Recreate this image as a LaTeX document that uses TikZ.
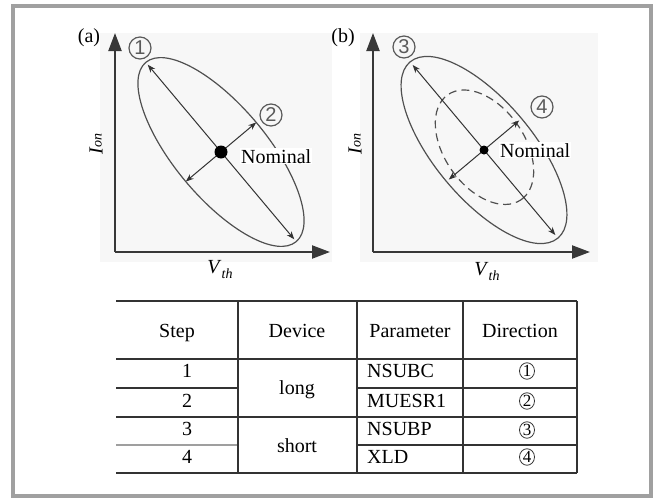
\documentclass[tikz,border=0pt]{standalone}
\usepackage{fontspec}
\setmainfont{Liberation Serif}
\newfontfamily\sansf{Liberation Sans}
\usetikzlibrary{arrows.meta,calc,shapes.geometric}
\definecolor{framec}{HTML}{A0A0A0}
\definecolor{axisc}{HTML}{383838}
\definecolor{ellc}{HTML}{505050}
\definecolor{linec}{HTML}{333333}
\definecolor{plotbg}{HTML}{F7F7F7}
\definecolor{lblc}{HTML}{5A5A5A}
\newcommand\myIon{\textit{I}\raisebox{1pt}{\fontsize{14}{14}\selectfont\textit{on}}}
\newcommand\myVth{\textit{V}\raisebox{-5pt}{\fontsize{14}{14}\selectfont\textit{th}}}
\begin{document}
\begin{tikzpicture}[x=1pt,y=-1pt,
  axisline/.style={draw=axisc,line width=2.2pt,-{Triangle[length=18pt,width=13pt]}},
  ell/.style={draw=ellc,line width=1.2pt},
  dashell/.style={draw=ellc,line width=1.2pt,dash pattern=on 8pt off 5pt},
  dbl/.style={draw=linec,line width=1pt,{Stealth[length=8pt,width=6pt]}-{Stealth[length=8pt,width=6pt]}},
  clabel/.style={circle,draw=lblc,line width=1.2pt,minimum size=22pt,inner sep=0pt,text=lblc,font=\sansf\fontsize{20}{20}\selectfont},
  tcirc/.style={ellipse,draw=linec,line width=0.8pt,minimum width=15pt,minimum height=16.5pt,inner sep=0pt,font=\fontsize{17}{17}\selectfont},
  txt/.style={inner sep=0pt,font=\fontsize{20}{24}\selectfont},
  tline/.style={draw=linec,line width=1.3pt},
  gline/.style={draw=gray!75,line width=1.3pt},
  nomlbl/.style={fill=white,inner sep=1pt,font=\fontsize{20}{24}\selectfont,anchor=base west},
]
\useasboundingbox (0,0) rectangle (654,498);
% outer frame
\draw[framec,line width=4pt] (13,6) rectangle (651,496);
% plot backgrounds
\fill[plotbg] (100,33) rectangle (332,262);
\fill[plotbg] (360,33) rectangle (598,262);

% ---------- plot (a) ----------
\node[txt,anchor=base] (la) at (89,42) {(a)};
\coordinate (oa) at (115,252);
\coordinate (ya) at (115,33);
\coordinate (xa) at (330,252);
\draw[axisline] (oa) -- (ya);
\draw[axisline] (oa) -- (xa);
\coordinate (ca) at (221,152);
\draw[ell,rotate around={-50:(ca)}] (ca) ellipse [x radius=117pt, y radius=46pt];
\coordinate (ma1) at ($(ca)+(130:114pt)$);
\coordinate (ma2) at ($(ca)+(-50:114pt)$);
\coordinate (na1) at ($(ca)+(40:46pt)$);
\coordinate (na2) at ($(ca)+(220:46pt)$);
\draw[dbl] (ma1) -- (ma2);
\draw[dbl] (na2) -- (na1);
\fill[black] (ca) circle (6.5pt);
\node[nomlbl] (noma) at (240,163) {Nominal};
\node[clabel] (c1) at (140,48) {1};
\node[clabel] (c2) at (271,115) {2};
\node[txt,rotate=90] (iona) at (96,144) {\myIon};
\node[txt] (vtha) at (220,270) {\myVth};

% ---------- plot (b) ----------
\node[txt,anchor=base] (lb) at (343,42) {(b)};
\coordinate (ob) at (373,252);
\coordinate (yb) at (373,33);
\coordinate (xb) at (590,252);
\draw[axisline] (ob) -- (yb);
\draw[axisline] (ob) -- (xb);
\coordinate (cb) at (484,150);
\draw[ell,rotate around={-50:(cb)}] (cb) ellipse [x radius=115pt, y radius=49pt];
\draw[dashell,rotate around={-55:(cb)}] (482,148) ellipse [x radius=64pt, y radius=40pt];
\coordinate (mb1) at ($(cb)+(130:111pt)$);
\coordinate (mb2) at ($(cb)+(-50:111pt)$);
\coordinate (nb1) at ($(cb)+(40:46pt)$);
\coordinate (nb2) at ($(cb)+(220:46pt)$);
\draw[dbl] (mb1) -- (mb2);
\draw[dbl] (nb2) -- (nb1);
\fill[black] (cb) circle (4.5pt);
\node[nomlbl] (nomb) at (499,157) {Nominal};
\node[clabel] (c3) at (404,47) {3};
\node[clabel] (c4) at (542,107) {4};
\node[txt,rotate=90] (ionb) at (355,144) {\myIon};
\node[txt] (vthb) at (487,272) {\myVth};

% ---------- table ----------
\draw[tline] (116,301) -- (577,301);
\draw[tline] (116,359) -- (577,359);
\draw[tline] (116,388) -- (238,388);
\draw[tline] (357,388) -- (577,388);
\draw[tline] (116,417) -- (577,417);
\draw[gline] (116,445) -- (238,445);
\draw[tline] (357,445) -- (577,445);
\draw[tline] (116,473) -- (577,473);
\foreach \xx in {238,357,463,577} \draw[tline] (\xx,301) -- (\xx,473);

\node[txt,anchor=base] (hstep) at (177,337) {Step};
\node[txt,anchor=base] (hdev) at (297,337) {Device};
\node[txt,anchor=base] (hpar) at (410,337) {Parameter};
\node[txt,anchor=base] (hdir) at (520,337) {Direction};

\node[txt,anchor=base] (s1) at (187,377) {1};
\node[txt,anchor=base] (s2) at (187,407) {2};
\node[txt,anchor=base] (s3) at (187,435) {3};
\node[txt,anchor=base] (s4) at (187,463) {4};

\node[txt,anchor=base] (dlong) at (297,394) {long};
\node[txt,anchor=base] (dshort) at (297,452) {short};

\node[txt,anchor=base west] (p1) at (367,377) {NSUBC};
\node[txt,anchor=base west] (p2) at (367,407) {MUESR1};
\node[txt,anchor=base west] (p3) at (367,435) {NSUBP};
\node[txt,anchor=base west] (p4) at (367,463) {XLD};

\node[tcirc] (d1) at (527,371) {1};
\node[tcirc] (d2) at (527,401) {2};
\node[tcirc] (d3) at (527,430) {3};
\node[tcirc] (d4) at (527,457) {4};
\end{tikzpicture}
\end{document}
